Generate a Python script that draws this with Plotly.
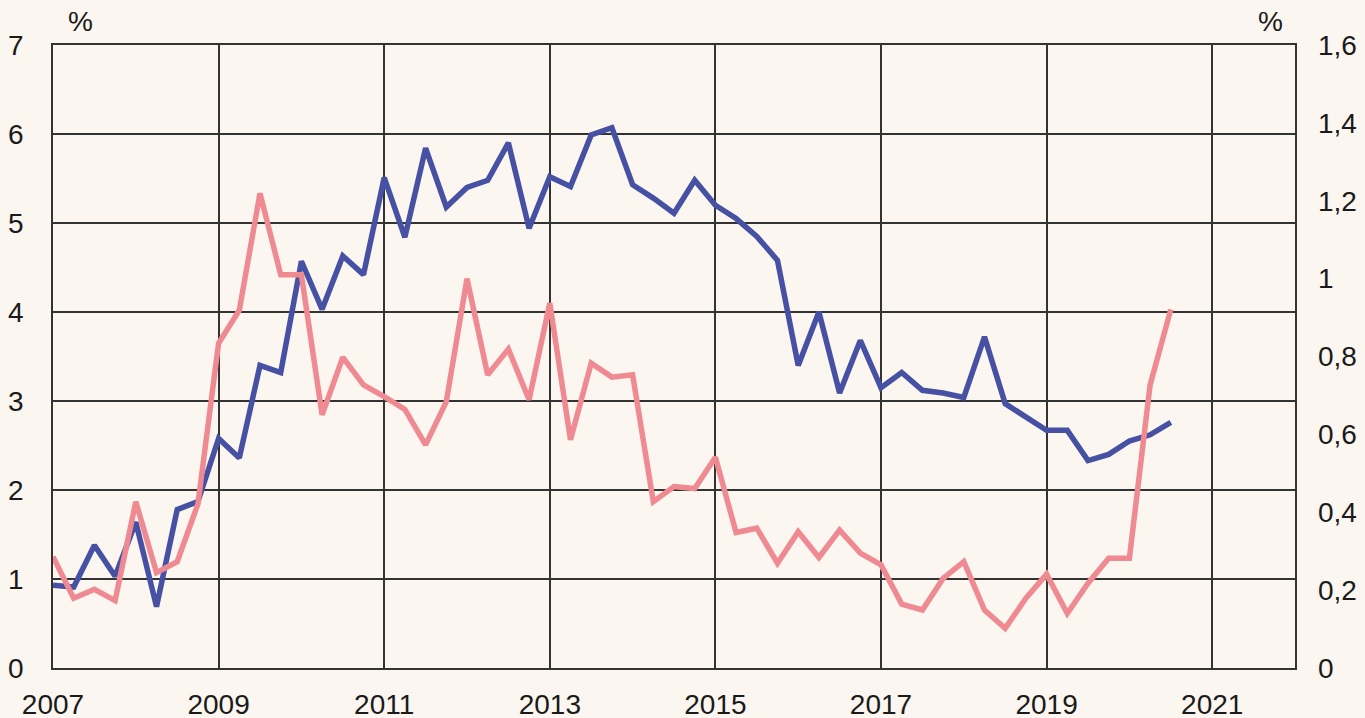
import plotly.graph_objects as go

# Quarterly observations, 2007 Q1 .. 2020 Q3
start_year = 2007
blue_left = [0.93, 0.91, 1.38, 1.03, 1.64, 0.69, 1.78, 1.87, 2.58, 2.36,
             3.40, 3.32, 4.57, 4.03, 4.63, 4.42, 5.51, 4.84, 5.84, 5.18,
             5.40, 5.48, 5.90, 4.94, 5.52, 5.41, 5.99, 6.07, 5.43, 5.28,
             5.11, 5.48, 5.20, 5.05, 4.85, 4.58, 3.40, 4.00, 3.09, 3.68,
             3.15, 3.32, 3.12, 3.09, 3.04, 3.72, 2.97, 2.82, 2.67, 2.67,
             2.33, 2.40, 2.55, 2.62, 2.76]
pink_right = [0.286, 0.179, 0.202, 0.173, 0.427, 0.245, 0.273, 0.421, 0.834, 0.919,
              1.219, 1.010, 1.010, 0.650, 0.798, 0.727, 0.697, 0.664, 0.573, 0.684,
              1.000, 0.753, 0.819, 0.689, 0.937, 0.586, 0.783, 0.747, 0.753, 0.427,
              0.466, 0.461, 0.541, 0.348, 0.359, 0.269, 0.350, 0.284, 0.354, 0.295,
              0.265, 0.164, 0.149, 0.230, 0.273, 0.149, 0.102, 0.179, 0.241, 0.140,
              0.218, 0.282, 0.282, 0.727, 0.921]
x_vals = [start_year + k * 0.25 for k in range(len(blue_left))]

year_ticks = [2007, 2009, 2011, 2013, 2015, 2017, 2019, 2021]
left_ticks = [0, 1, 2, 3, 4, 5, 6, 7]
right_ticks = [0, 0.2, 0.4, 0.6, 0.8, 1.0, 1.2, 1.4, 1.6]
right_labels = ["0", "0,2", "0,4", "0,6", "0,8", "1", "1,2", "1,4", "1,6"]

BLUE = "#4651A3"
PINK = "#F08A92"
BG = "#FBF6EF"
GRID = "#333333"
FONT = dict(family="Liberation Sans, Arial, sans-serif", size=28, color="#1a1a1a")

W, H = 1365, 718
ML, MR, MT, MB = 53, 70, 45, 50
PW, PH = W - ML - MR, H - MT - MB

fig = go.Figure()
fig.add_trace(go.Scatter(x=x_vals, y=blue_left, mode="lines",
                         line=dict(color=BLUE, width=5.5), yaxis="y", showlegend=False))
fig.add_trace(go.Scatter(x=x_vals, y=pink_right, mode="lines",
                         line=dict(color=PINK, width=5.5), yaxis="y2", showlegend=False))

fig.update_layout(
    width=W, height=H,
    margin=dict(l=ML, r=MR, t=MT, b=MB, autoexpand=False),
    paper_bgcolor=BG, plot_bgcolor=BG,
    font=FONT,
    xaxis=dict(range=[2007, 2022], tickvals=year_ticks, ticktext=[str(y) for y in year_ticks],
               showgrid=True, gridcolor=GRID, gridwidth=1.5,
               showline=True, linecolor=GRID, linewidth=1.8, mirror=True,
               zeroline=False, ticks="", tickfont=FONT, ticklabelstandoff=10,
               automargin=False),
    yaxis=dict(range=[0, 7], tickvals=left_ticks, showgrid=True, gridcolor=GRID, gridwidth=1.5,
               showline=True, linecolor=GRID, linewidth=1.8, mirror=True,
               zeroline=False, ticks="", tickfont=FONT, ticklabelstandoff=22,
               automargin=False),
    yaxis2=dict(range=[0, 1.6], tickvals=right_ticks, ticktext=right_labels,
                overlaying="y", side="right", showgrid=False, zeroline=False,
                showline=False, ticks="", tickfont=FONT, ticklabelstandoff=22,
                automargin=False),
)
for px in (80, 1270):
    fig.add_annotation(text="%", xref="paper", yref="paper",
                       x=(px - ML) / PW, y=1 + (MT - 22) / PH,
                       showarrow=False, font=FONT, xanchor="center", yanchor="middle")

fig.write_html("out.html",
               config={"displayModeBar": False},
               post_script="document.body.style.margin='0';document.body.style.overflow='hidden';")
